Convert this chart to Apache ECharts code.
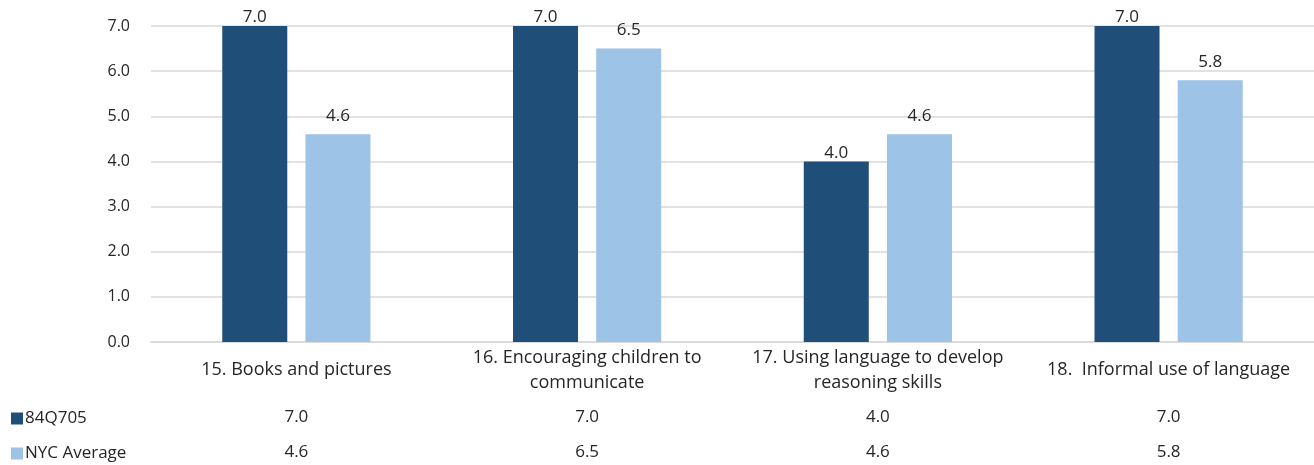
<!DOCTYPE html>
<html>
<head>
<meta charset="utf-8">
<script src="https://cdn.jsdelivr.net/npm/echarts@6/dist/echarts.min.js"></script>
<style>
  html, body { margin: 0; padding: 0; background: #fff; }
  #chart { width: 1314px; height: 465px; }
</style>
</head>
<body>
<div id="chart"></div>
<script>
// Category names (line breaks as printed under each group)
const categories = [
  '15. Books and pictures',
  '16. Encouraging children to\ncommunicate',
  '17. Using language to develop\nreasoning skills',
  '18.  Informal use of language'
];
const seriesNames = ['84Q705', 'NYC Average'];
const schoolValues = [7.0, 7.0, 4.0, 7.0];
const nycValues = [4.6, 6.5, 4.6, 5.8];
const yTicks = { min: 0, max: 7, interval: 1 };

const FONT = "'Open Sans', 'Noto Sans', sans-serif";
const TEXT = '#262626';
const DARK = '#1F4E79';
const LIGHT = '#9DC3E6';
const fmt = v => v.toFixed(1);

const chart = echarts.init(document.getElementById('chart'), null, { renderer: 'canvas' });

// Data-table rows under the axis, one hidden category axis per series
function tableAxis(values, offset) {
  return {
    type: 'category',
    data: categories,
    position: 'bottom',
    offset: offset,
    axisLine: { show: false },
    axisTick: { show: false },
    splitLine: { show: false },
    axisLabel: {
      margin: 0,
      interval: 0,
      verticalAlign: 'middle',
      fontFamily: FONT,
      fontSize: 17,
      color: TEXT,
      formatter: (v, i) => fmt(values[i])
    }
  };
}

// One legend key per table row, placed at the row's left edge
function rowKey(name, top) {
  return {
    left: 6,
    top: top,
    itemWidth: 12,
    itemHeight: 12,
    itemGap: 0,
    icon: 'rect',
    textStyle: { fontFamily: FONT, fontSize: 17, color: TEXT, padding: [0, 0, 0, -3] },
    data: [name]
  };
}

chart.setOption({
  animation: false,
  textStyle: { fontFamily: FONT },
  grid: { left: 151, right: 0, top: 26, bottom: 123, containLabel: false },
  legend: [rowKey(seriesNames[0], 405), rowKey(seriesNames[1], 440)],
  xAxis: [
    {
      type: 'category',
      data: categories,
      axisLine: { show: true, lineStyle: { color: '#d9d9d9', width: 1.5 } },
      axisTick: { show: false },
      axisLabel: {
        interval: 0,
        margin: 28,
        verticalAlign: 'middle',
        lineHeight: 25,
        fontFamily: FONT,
        fontSize: 18,
        color: TEXT
      }
    },
    tableAxis(schoolValues, 75),
    tableAxis(nycValues, 110)
  ],
  yAxis: {
    type: 'value',
    min: yTicks.min,
    max: yTicks.max,
    interval: yTicks.interval,
    axisLine: { show: false },
    axisTick: { show: false },
    splitLine: { lineStyle: { color: '#d9d9d9', width: 1.5 } },
    axisLabel: {
      margin: 21,
      fontFamily: FONT,
      fontSize: 16,
      color: TEXT,
      formatter: v => fmt(v)
    }
  },
  series: [
    {
      name: seriesNames[0],
      type: 'bar',
      data: schoolValues,
      barWidth: 65,
      barGap: '28%',
      itemStyle: { color: DARK },
      label: { show: true, position: 'top', distance: 0, fontFamily: FONT, fontSize: 17, color: TEXT, formatter: p => fmt(p.value) }
    },
    {
      name: seriesNames[1],
      type: 'bar',
      data: nycValues,
      barWidth: 65,
      itemStyle: { color: LIGHT },
      label: { show: true, position: 'top', distance: 10, fontFamily: FONT, fontSize: 17, color: TEXT, formatter: p => fmt(p.value) }
    }
  ]
});
</script>
</body>
</html>
